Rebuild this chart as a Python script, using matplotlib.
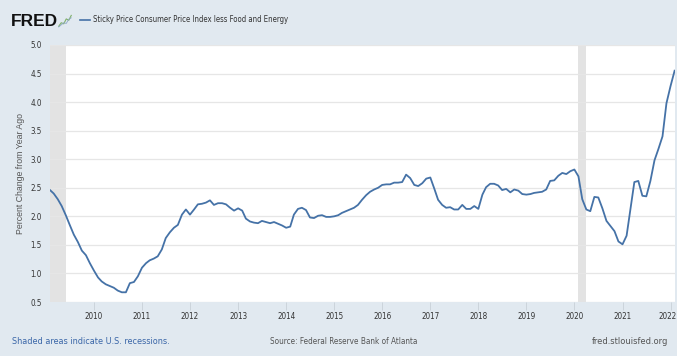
import matplotlib
matplotlib.use("Agg")
import matplotlib.pyplot as plt
import matplotlib.transforms as mtransforms
import pandas as pd

# ---- data (monthly, Feb 2009 - Feb 2022), percent change from year ago ----
start_month = "2009-02-01"
values = [
    2.46, 2.40, 2.30, 2.18, 2.02, 1.85, 1.68, 1.55, 1.40, 1.32, 1.18,          # 2009 Feb-Dec
    1.05, 0.93, 0.86, 0.81, 0.78, 0.75, 0.70, 0.67, 0.67, 0.83, 0.85, 0.95,    # 2010
    1.10, 1.18, 1.23, 1.26, 1.30, 1.42, 1.62, 1.72, 1.80, 1.85, 2.03, 2.12,    # 2011
    2.03, 2.12, 2.21, 2.22, 2.24, 2.28, 2.20, 2.23, 2.23, 2.21, 2.15, 2.10,    # 2012
    2.14, 2.10, 1.96, 1.91, 1.89, 1.88, 1.92, 1.90, 1.88, 1.90, 1.87, 1.84,    # 2013
    1.80, 1.82, 2.03, 2.13, 2.15, 2.11, 1.98, 1.97, 2.01, 2.02, 1.99, 1.99,    # 2014
    2.00, 2.02, 2.06, 2.09, 2.12, 2.15, 2.20, 2.29, 2.37, 2.43, 2.47, 2.50,    # 2015
    2.55, 2.56, 2.56, 2.59, 2.59, 2.60, 2.73, 2.67, 2.55, 2.53, 2.58, 2.66,    # 2016
    2.68, 2.48, 2.29, 2.20, 2.15, 2.16, 2.12, 2.12, 2.20, 2.13, 2.13, 2.18,    # 2017
    2.13, 2.38, 2.51, 2.57, 2.57, 2.54, 2.46, 2.48, 2.42, 2.47, 2.45, 2.39,    # 2018
    2.38, 2.39, 2.41, 2.42, 2.43, 2.47, 2.62, 2.63, 2.71, 2.76, 2.74, 2.79,    # 2019
    2.82, 2.70, 2.30, 2.12, 2.09, 2.34, 2.33, 2.14, 1.92, 1.83, 1.74, 1.56,    # 2020
    1.51, 1.66, 2.10, 2.60, 2.62, 2.36, 2.35, 2.62, 2.98, 3.18, 3.40, 3.98,    # 2021
    4.28, 4.55,                                                                # 2022 Jan-Feb
]
recessions = [("2009-02-01", "2009-06-01"), ("2020-02-01", "2020-04-01")]
y_ticks = [0.5, 1.0, 1.5, 2.0, 2.5, 3.0, 3.5, 4.0, 4.5, 5.0]
x_tick_years = list(range(2010, 2023))
title = "Sticky Price Consumer Price Index less Food and Energy"
y_label = "Percent Change from Year Ago"

dates = pd.date_range(start_month, periods=len(values), freq="MS")

# ---- style ----
BG = "#e1e9f0"
LINE = "#4572a7"
COND = dict(family="DejaVu Sans", stretch="condensed")
SANS = ["Liberation Sans", "DejaVu Sans"]

W, H = 677, 356
fig = plt.figure(figsize=(W / 100, H / 100), dpi=100, facecolor=BG)


def fx(px):
    return px / W


def fy(py):
    return 1 - py / H


ax_l, ax_r, ax_t, ax_b = 50, 675, 45, 302
ax = fig.add_axes([fx(ax_l), fy(ax_b), fx(ax_r - ax_l), (ax_b - ax_t) / H])
ax.set_facecolor("white")

for s, e in recessions:
    ax.axvspan(pd.Timestamp(s), pd.Timestamp(e), color="#e3e3e3", lw=0, zorder=1)

ax.plot(dates, values, color=LINE, lw=1.3, zorder=3, solid_joinstyle="round")

ax.set_xlim(dates[0], dates[-1] + pd.Timedelta(days=3))
ax.set_ylim(0.5, 5.0)
ax.set_yticks(y_ticks)
ax.set_yticklabels([f"{v:.1f}" for v in y_ticks])
ax.set_xticks([pd.Timestamp(f"{y}-01-01") for y in x_tick_years])
ax.set_xticklabels([str(y) for y in x_tick_years])
ax.grid(axis="y", color="#e6e6e6", lw=0.9, zorder=0)
ax.grid(axis="x", visible=False)
for sp in ax.spines.values():
    sp.set_visible(False)

ax.tick_params(axis="y", length=0, pad=6, labelsize=5.8, labelcolor="#333333")
ax.tick_params(axis="x", length=6, width=0.6, color="#c8d0d8", pad=1,
               labelsize=5.8, labelcolor="#333333", direction="out")
for lab in ax.get_xticklabels() + ax.get_yticklabels():
    lab.set_family(COND["family"])
    lab.set_stretch(COND["stretch"])
# keep the last year label inside the figure
last = ax.get_xticklabels()[-1]
last.set_transform(last.get_transform() +
                   mtransforms.ScaledTranslation(-3 / 100, 0, fig.dpi_scale_trans))

ax.set_ylabel(y_label, fontsize=6.3, color="#555555", family=SANS, labelpad=4)

# ---- header ----
fig.text(fx(11), fy(21), "FRED", fontsize=12.5, fontweight="bold", color="#111111",
         family=SANS, va="center", ha="left")
# tiny logo icon
icon = fig.add_axes([fx(58), fy(28), fx(14), 14 / H])
icon.set_facecolor("#dfe6dc")
icon.plot([0, 1, 2, 3, 4, 5], [0.5, 1.5, 1.2, 2.6, 2.2, 3.6], color="#7fb069", lw=0.8)
icon.plot([0, 1, 2, 3, 4, 5], [0.3, 0.9, 1.5, 1.3, 2.5, 2.9], color="#8fa8c8", lw=0.6)
icon.set_xlim(-0.3, 5.3)
icon.set_ylim(0, 4)
icon.axis("off")

fig.lines.append(plt.Line2D([fx(80), fx(90)], [fy(20), fy(20)], color=LINE, lw=1.2,
                            transform=fig.transFigure))
fig.text(fx(93), fy(20), title, fontsize=5.6, color="#333333", va="center", ha="left", **COND)

# ---- footer ----
fig.text(fx(12), fy(341), "Shaded areas indicate U.S. recessions.", fontsize=6.5,
         color="#3a66a8", va="center", ha="left", **COND)
fig.text(fx(344), fy(341), "Source: Federal Reserve Bank of Atlanta", fontsize=5.9,
         color="#555555", va="center", ha="center", **COND)
fig.text(fx(668), fy(341), "fred.stlouisfed.org", fontsize=6.7,
         color="#555555", va="center", ha="right", **COND)

fig.savefig("out.png", dpi=100, facecolor=BG)
